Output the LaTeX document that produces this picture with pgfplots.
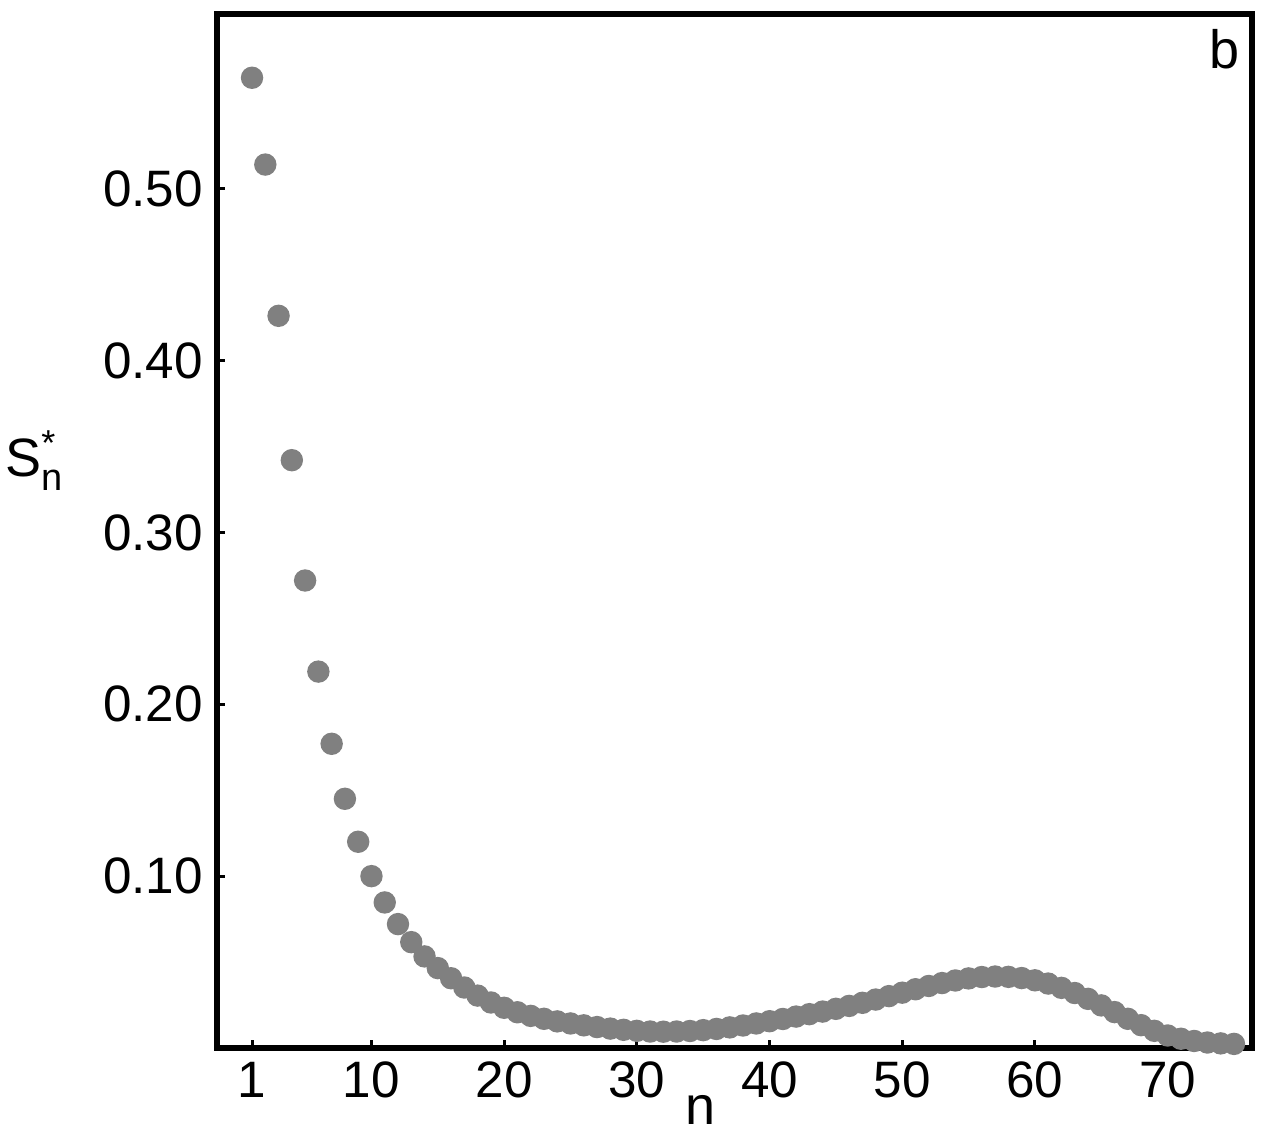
\documentclass[border=0pt]{standalone}
\usepackage{fontspec}
\setmainfont{Liberation Sans}
\usepackage{pgfplots}
\pgfplotsset{compat=1.18}
\definecolor{dotgray}{RGB}{128,128,128}
\begin{document}%
\begin{tikzpicture}[font=\fontsize{12.8}{15}\selectfont]
\begin{axis}[
  name=ax,
  scale only axis,
  width=258.75pt, height=258.5pt,
  xmin=-1.64, xmax=76.36,
  ymin=0, ymax=0.6016,
  axis line style={line width=1.5pt},
  xtick={1,10,20,30,40,50,60,70},
  ytick={0.1,0.2,0.3,0.4,0.5},
  yticklabels={0.10,0.20,0.30,0.40,0.50},
  tick pos=left,
  tick align=inside,
  major tick length=2pt,
  tick style={line width=0.75pt, black},
  /pgf/number format/assume math mode=true,
  ticklabel style={font=\fontsize{12.8}{15}\selectfont},
  xlabel={n},
  xlabel style={at={(axis description cs:0.467,0)}, anchor=center, inner sep=0pt, yshift=-15.5pt, font=\fontsize{13.5}{15}\selectfont},
  ylabel={S$^{\mbox{\fontsize{9}{10}\selectfont *}}_{\mbox{\fontsize{9.5}{10}\selectfont n}}$},
  ylabel style={rotate=-90, at={(axis description cs:-0.176,0.568)}, anchor=center, inner sep=0pt, font=\fontsize{13.5}{15}\selectfont},
  clip=false,
  axis on top,
]
\addplot[only marks, mark=*, color=dotgray, mark size=2.6pt] coordinates {
(1,0.5645) (2,0.514) (3,0.426) (4,0.342) (5,0.272) (6,0.219) (7,0.177) (8,0.145) (9,0.120) (10,0.100)
(11,0.0847) (12,0.0721) (13,0.0616) (14,0.0533) (15,0.0465) (16,0.0406) (17,0.0352) (18,0.0305) (19,0.0265) (20,0.0234)
(21,0.0208) (22,0.0187) (23,0.0170) (24,0.0155) (25,0.0143) (26,0.0132) (27,0.0122) (28,0.0113) (29,0.0106) (30,0.0100)
(31,0.0096) (32,0.0095) (33,0.0096) (34,0.0099) (35,0.0104) (36,0.0111) (37,0.0120) (38,0.0131) (39,0.0143) (40,0.0156)
(41,0.0169) (42,0.0183) (43,0.0197) (44,0.0212) (45,0.0228) (46,0.0245) (47,0.0263) (48,0.0282) (49,0.0302) (50,0.0322)
(51,0.0342) (52,0.0361) (53,0.0378) (54,0.0393) (55,0.0405) (56,0.0413) (57,0.0416) (58,0.0414) (59,0.0407) (60,0.0394)
(61,0.0375) (62,0.0350) (63,0.0320) (64,0.0286) (65,0.0248) (66,0.0209) (67,0.0170) (68,0.0133) (69,0.0100) (70,0.0073)
(71,0.0054) (72,0.0041) (73,0.0032) (74,0.0027) (75,0.0024)
};
\node[anchor=north east, inner sep=0pt, font=\fontsize{13.5}{15}\selectfont] at ([xshift=-3pt,yshift=-3.75pt]rel axis cs:1,1) {b};
\end{axis}
\path ([shift={(-54.25pt,-21.5pt)}]ax.south west) rectangle ([shift={(3.5pt,3.5pt)}]ax.north east);
\end{tikzpicture}%
\end{document}
